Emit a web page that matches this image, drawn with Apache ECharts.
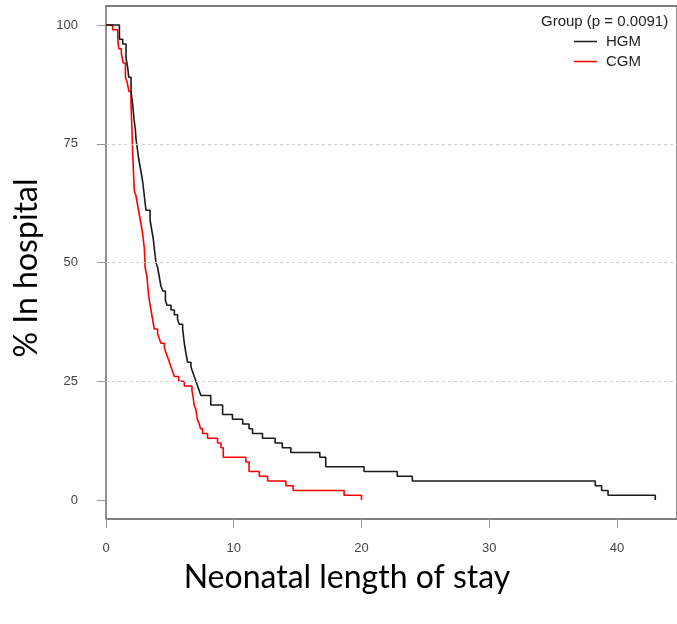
<!DOCTYPE html>
<html>
<head>
<meta charset="utf-8">
<script src="https://cdn.jsdelivr.net/npm/echarts@6/dist/echarts.min.js"></script>
<style>
  html, body { margin: 0; padding: 0; background: #fff; }
  #chart { width: 677px; height: 624px; }
</style>
</head>
<body>
<div id="chart"></div>
<script>
// step points: time (days) where the curve drops, % still in hospital after the drop
const hgmTimes = [0, 1.05, 1.31, 1.57, 1.7, 1.78, 1.96, 2.1, 2.2, 2.3, 2.35, 2.45, 2.55, 2.61, 2.75, 2.87, 3.0, 3.13,
    3.45, 3.57, 3.7, 3.78, 3.91, 4.04, 4.17, 4.3, 4.45, 4.65, 4.78, 5.09, 5.35, 5.6, 5.74, 6.0, 6.13, 6.25, 6.39,
    6.65, 6.78, 6.91, 7.04, 7.17, 7.3, 7.43, 8.2, 9.13, 9.9, 10.7, 11.2, 11.47, 12.25, 13.24, 13.8, 14.47, 16.74,
    17.2, 20.2, 22.8, 23.98, 38.3, 38.8, 39.3, 43.0];
const hgmPct = [100, 97, 96, 93, 91, 89, 86, 83, 80, 78, 76, 74, 72, 71, 69, 67, 64, 61,
    59, 57, 55, 53, 50, 49, 47, 45, 44, 42, 41, 40, 39, 38, 37, 36, 33, 31, 29,
    28, 27, 26, 25, 24, 23, 22, 20, 18, 17, 16, 15, 14, 13, 12, 11, 10, 9,
    7, 6, 5, 4, 3, 2, 1, 0];

const cgmTimes = [0, 0.52, 0.92, 1.0, 1.2, 1.35, 1.52, 1.65, 1.8, 1.96, 2.02, 2.09, 2.15, 2.22, 2.35, 2.48, 2.61,
    2.75, 2.87, 3.0, 3.06, 3.21, 3.3, 3.39, 3.52, 3.65, 3.78, 4.04, 4.17, 4.3, 4.57, 4.7, 4.83, 4.96, 5.09, 5.22,
    5.35, 5.69, 6.13, 6.73, 6.8, 6.9, 7.04, 7.15, 7.3, 7.4, 7.56, 7.95, 8.73, 9.0, 9.18, 10.95, 11.2, 12.0, 12.65,
    14.08, 14.65, 18.64, 20.0];
const cgmPct = [100, 99, 97, 95, 94, 92, 89, 88, 86, 83, 79, 73, 69, 65, 64, 62, 60,
    58, 56, 53, 49, 47, 44, 42, 40, 38, 36, 35, 34, 33, 32, 31, 30, 29, 28, 27,
    26, 25, 24, 23, 22, 20, 19, 17, 16, 15, 14, 13, 12, 11, 9, 8, 6, 5, 4,
    3, 2, 1, 0];

const xTicks = [0, 10, 20, 30, 40];
const yTicks = [0, 25, 50, 75, 100];
const gridLines = [25, 50, 75];
const groupNames = ['HGM', 'CGM'];
const pValueText = 'Group (p = 0.0091)';

function pairs(times, pct) {
    return times.map((t, i) => [t, pct[i]]);
}

const chart = echarts.init(document.getElementById('chart'));

chart.setOption({
    animation: false,
    title: {
        text: pValueText,
        left: 541,
        top: 14,
        padding: 0,
        textStyle: {
            fontFamily: 'Liberation Sans',
            fontSize: 15,
            fontWeight: 'normal',
            color: '#222'
        }
    },
    legend: {
        data: groupNames,
        orient: 'vertical',
        left: 574,
        top: 34,
        padding: 0,
        icon: 'rect',
        itemWidth: 23,
        itemHeight: 1.5,
        itemGap: 5,
        textStyle: {
            fontFamily: 'Liberation Sans',
            fontSize: 15,
            lineHeight: 15,
            color: '#222',
            padding: [0, 0, 0, 4]
        }
    },
    grid: {
        left: 106,
        right: 0,
        top: 6,
        bottom: 105,
        show: true,
        borderColor: '#555',
        borderWidth: 1.3
    },
    xAxis: {
        type: 'value',
        min: 0,
        max: 44.7,
        axisLine: { show: false, onZero: false },
        splitLine: { show: false },
        axisTick: {
            length: 9,
            customValues: xTicks,
            lineStyle: { color: '#999' }
        },
        axisLabel: {
            customValues: xTicks,
            margin: 23,
            fontFamily: 'Liberation Sans',
            fontSize: 13,
            color: '#444'
        }
    },
    yAxis: {
        type: 'value',
        min: -4,
        max: 104,
        axisLine: { show: false, onZero: false },
        splitLine: { show: false },
        axisTick: {
            length: 9,
            customValues: yTicks,
            lineStyle: { color: '#999' }
        },
        axisLabel: {
            customValues: yTicks,
            margin: 28,
            fontFamily: 'Liberation Sans',
            fontSize: 13,
            color: '#444'
        }
    },
    graphic: [
        {
            type: 'text',
            x: 27,
            y: 268,
            rotation: Math.PI / 2,
            style: {
                text: '% In hospital',
                fontFamily: 'Lato',
                fontSize: 32,
                fill: '#000',
                textAlign: 'center',
                textVerticalAlign: 'middle'
            }
        },
        {
            type: 'text',
            x: 347,
            y: 578,
            style: {
                text: 'Neonatal length of stay',
                fontFamily: 'Lato',
                fontSize: 32,
                fill: '#000',
                textAlign: 'center',
                textVerticalAlign: 'middle'
            }
        }
    ],
    series: [
        {
            name: groupNames[0],
            type: 'line',
            step: 'end',
            showSymbol: false,
            color: '#1a1a1a',
            lineStyle: { width: 1.6 },
            data: pairs(hgmTimes, hgmPct),
            z: 3,
            markLine: {
                silent: true,
                symbol: 'none',
                label: { show: false },
                lineStyle: { color: '#d0d0d0', type: [3, 3], width: 1 },
                data: gridLines.map(v => ({ yAxis: v }))
            }
        },
        {
            name: groupNames[1],
            type: 'line',
            step: 'end',
            showSymbol: false,
            color: '#ff0000',
            lineStyle: { width: 1.6 },
            data: pairs(cgmTimes, cgmPct),
            z: 2
        }
    ]
});
</script>
</body>
</html>
